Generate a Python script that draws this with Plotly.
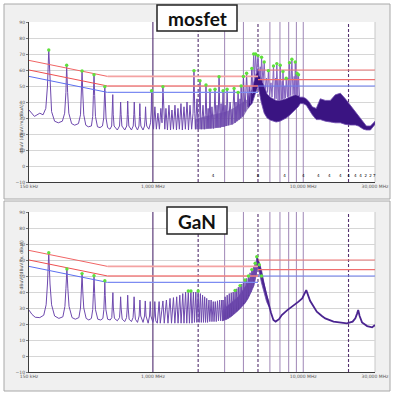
import math
import plotly.graph_objects as go

# ------------------------------------------------------------------ data
x_tick_vals = [0.15, 1, 10, 30]
x_tick_text = ["150 kHz", "1,000 MHz", "10,000 MHz", "30,000 MHz"]
y_tick_vals = [-10, 0, 10, 20, 30, 40, 50, 60, 70, 80, 90]

# limit lines (MHz, dBuV): sloped / flat / upper segments
lim_f = [0.15, 0.5, 0.5, 5, 5, 30]
limA_db = [66, 56, 56, 56, 60, 60]
limB_db = [60, 50, 50, 50, 54, 54]
limC_db = [56, 46, 46, 46, 50, 50]

vline_f = [1, 2, 3, 4, 5, 6, 7, 8, 9, 10, 20]
vline_kind = ["dark", "dash", "light", "light", "dash", "light", "light", "light", "light", "light", "dash"]

# ---- mosfet spectrum (MHz, dBuV)
mos_zig = [
    (0.150, 35), (0.163, 31), (0.177, 33), (0.186, 32), (0.194, 36), (0.199, 50), (0.203, 72.5), (0.207, 50),
    (0.212, 34), (0.222, 28), (0.235, 27), (0.250, 28), (0.259, 33), (0.264, 46), (0.267, 63), (0.271, 46),
    (0.276, 33), (0.288, 26.5), (0.302, 25.5), (0.320, 26.5), (0.330, 32), (0.334, 45), (0.338, 59.4), (0.342, 45),
    (0.347, 32), (0.358, 25.5), (0.372, 24.5), (0.390, 25), (0.398, 31), (0.402, 44), (0.406, 57), (0.410, 44),
    (0.415, 31), (0.428, 24.5), (0.445, 24), (0.462, 25), (0.471, 30), (0.475, 40), (0.479, 49.6), (0.483, 40),
    (0.488, 30), (0.500, 24), (0.518, 23), (0.532, 25), (0.537, 32), (0.541, 44.6), (0.545, 32), (0.552, 25),
    (0.580, 22.5), (0.600, 25), (0.606, 32), (0.610, 40), (0.615, 32), (0.622, 25), (0.650, 22.5), (0.670, 25),
    (0.676, 32), (0.680, 40.6), (0.685, 32), (0.692, 25), (0.720, 22.5), (0.740, 25), (0.747, 32), (0.752, 40),
    (0.757, 32), (0.765, 25), (0.790, 22.5), (0.808, 25), (0.814, 31), (0.819, 39), (0.824, 31), (0.832, 25),
    (0.860, 22.5), (0.880, 25), (0.888, 30), (0.894, 37), (0.900, 30), (0.910, 25), (0.940, 23), (0.965, 27),
    (0.975, 35), (0.980, 47), (0.986, 35), (0.996, 26), (1.010, 23), (1.031, 37), (1.055, 23), (1.080, 33),
    (1.105, 23), (1.130, 36), (1.150, 27), (1.166, 49.6), (1.185, 27), (1.200, 23), (1.221, 36), (1.250, 22.5),
    (1.279, 38), (1.310, 22.5), (1.339, 35), (1.370, 23), (1.402, 38), (1.435, 22.5), (1.468, 36), (1.500, 23),
    (1.537, 39), (1.570, 22.5), (1.610, 37), (1.645, 23), (1.686, 40), (1.725, 22.5), (1.765, 38), (1.810, 23),
    (1.850, 33), (1.876, 59.6), (1.900, 33), (1.920, 23), (1.965, 42), (2.000, 23), (2.030, 32), (2.057, 53.3),
    (2.080, 30), (2.100, 23), (2.154, 38), (2.200, 23), (2.230, 32), (2.255, 50.6), (2.290, 23.5), (2.330, 36),
    (2.360, 23.5), (2.399, 47.5), (2.430, 23.5), (2.470, 37), (2.530, 23.5), (2.590, 48), (2.630, 24), (2.670, 38),
    (2.710, 24), (2.754, 55.8), (2.800, 24), (2.840, 39), (2.880, 24.5), (2.929, 47), (2.970, 24.5), (3.020, 38),
    (3.070, 25), (3.115, 48), (3.180, 25.5), (3.260, 40), (3.360, 26), (3.467, 48.5), (3.520, 27), (3.570, 40),
    (3.620, 28), (3.687, 46), (3.740, 29), (3.800, 42), (3.830, 30), (3.861, 50), (3.930, 31), (4.000, 56),
    (4.100, 34), (4.200, 58), (4.280, 37), (4.370, 50), (4.450, 39), (4.550, 61), (4.600, 45),
]
mos_spk = [
    (4.60, 50), (4.68, 70), (4.75, 55), (4.82, 70), (4.90, 58), (5.00, 69), (5.10, 56), (5.18, 62), (5.23, 54),
    (5.28, 68), (5.40, 52), (5.50, 65), (5.60, 48), (5.70, 55), (5.78, 46), (5.86, 59.6), (5.97, 44), (6.10, 52),
    (6.20, 43), (6.34, 62.5), (6.45, 42), (6.55, 55), (6.60, 42), (6.67, 64), (6.80, 41), (6.90, 54), (6.96, 41),
    (7.03, 63), (7.15, 41.5), (7.25, 53), (7.28, 42), (7.33, 59), (7.45, 42), (7.55, 50), (7.62, 42.5), (7.70, 54.8),
    (7.85, 43), (7.95, 55), (8.02, 43.5), (8.10, 64.6), (8.25, 44), (8.40, 66.7), (8.55, 44.5), (8.70, 56),
    (8.78, 44.5), (8.85, 65), (8.95, 44.5), (9.10, 58), (9.20, 44), (9.30, 57), (9.45, 43),
]
# dense lower body between 1.9 and 4.3 MHz
mos_body_f = [1.9, 2.2, 2.5, 2.8, 3.1, 3.4, 3.7, 4.0, 4.3]
mos_body_lo = [23, 23, 23.5, 24, 25, 26, 28.5, 31, 36]
mos_body_hi = [29, 31, 32, 33, 34, 36, 38, 40, 42]
# dense band 4.3 - 30 MHz
mos_band_f = [4.3, 4.45, 4.57, 4.79, 5.01, 5.25, 5.5, 5.75, 6.03, 6.31, 6.6, 7.0, 7.36, 7.7, 8.07, 8.45, 8.85,
              9.26, 9.55, 10.0, 10.47, 10.96, 11.48, 12.2, 12.98, 14.02, 15.14, 16.34, 17.65, 19.05, 20.57,
              22.2, 23.27, 25.12, 26.3, 27.98, 30.0]
mos_band_lo = [36, 38, 39, 45, 50, 40, 33, 30, 28.7, 28, 27.5, 28, 29, 30, 31.5, 33, 35,
               37, 39, 39, 38, 35, 32, 29, 29, 28, 27.5, 27, 27, 26, 25.6,
               25.6, 25, 23, 22.5, 22.5, 26]
mos_band_hi = [42, 45, 48, 56, 61, 55, 50, 45, 43, 42, 41, 41, 41.5, 42, 43, 44, 44.5,
               44, 43, 43, 42, 40, 37, 36, 42, 41, 41, 44.5, 45.5, 42, 38,
               34, 31, 27, 25, 25, 28]
mos_mk = [
    (0.203, 72.5), (0.267, 63), (0.338, 59.4), (0.406, 57), (0.479, 49.6), (0.980, 47), (1.166, 49.6), (1.876, 59.6),
    (2.057, 53.3), (2.255, 50.6), (2.399, 47.5), (2.590, 48), (2.754, 55.8), (2.929, 47), (3.115, 48), (3.467, 48.5),
    (3.687, 46), (3.861, 50), (4.000, 56), (4.200, 58), (4.550, 61), (4.68, 70), (4.82, 70), (5.00, 69), (5.28, 68),
    (5.50, 65), (5.86, 59.6), (6.34, 62.5), (6.67, 64), (7.03, 63), (7.33, 59), (7.70, 54.8), (8.10, 64.6),
    (8.40, 66.7), (8.85, 65), (9.10, 58), (9.30, 57),
]
mos_lbl_f = [2.51, 5.0, 7.5, 10.0, 12.6, 14.9, 17.6, 20.0, 22.2, 24.0, 26.0, 28.0, 29.7]
mos_lbl_txt = ["4", "8", "4", "4", "4", "4", "4", "4", "4", "4", "2", "2", "7"]
lbl_level = -6.5

# ---- GaN spectrum (MHz, dBuV)
gan_zig = [
    (0.150, 28.7), (0.157, 26), (0.165, 24.2), (0.177, 24), (0.188, 25.5), (0.195, 32), (0.199, 45), (0.203, 64.6),
    (0.207, 45), (0.212, 32), (0.222, 25), (0.237, 23.5), (0.252, 24.5), (0.260, 31), (0.264, 42), (0.268, 54.4),
    (0.272, 42), (0.277, 31), (0.290, 24), (0.305, 23), (0.322, 24), (0.330, 30), (0.334, 40), (0.338, 51.5),
    (0.342, 40), (0.347, 30), (0.360, 23.5), (0.375, 22.5), (0.390, 23.5), (0.398, 29), (0.402, 39), (0.406, 50.2),
    (0.410, 39), (0.415, 29), (0.430, 23), (0.450, 22.5), (0.465, 23.5), (0.472, 29), (0.476, 38), (0.479, 47),
    (0.482, 38), (0.487, 29), (0.500, 23), (0.520, 22.5), (0.533, 24), (0.538, 30), (0.542, 39.6), (0.546, 30),
    (0.555, 23.5), (0.580, 22), (0.600, 24), (0.606, 30), (0.610, 37), (0.615, 30), (0.625, 23), (0.650, 21.5),
    (0.668, 24), (0.675, 30), (0.680, 38), (0.685, 30), (0.695, 23), (0.720, 21.5), (0.738, 24), (0.745, 30),
    (0.750, 37), (0.755, 30), (0.765, 23), (0.790, 21), (0.810, 25), (0.820, 35), (0.830, 25), (0.860, 21),
    (0.880, 25), (0.890, 34.4), (0.900, 25), (0.930, 20.5), (0.950, 25), (0.960, 34), (0.970, 25), (1.000, 21),
    (1.020, 25), (1.030, 34), (1.045, 22), (1.070, 20.5), (1.100, 34), (1.120, 20.5), (1.166, 34.4), (1.190, 20.5),
    (1.230, 35), (1.260, 20.5), (1.300, 36), (1.330, 20.5), (1.370, 36.5), (1.400, 20.5), (1.440, 37), (1.470, 20.5),
    (1.510, 38), (1.540, 20.5), (1.580, 39), (1.610, 20.5), (1.650, 40), (1.680, 20.5), (1.720, 40.6), (1.750, 20.5),
    (1.790, 40.6), (1.820, 20.5), (1.860, 40), (1.890, 21), (1.930, 40), (1.960, 21), (2.000, 40.6), (2.030, 21),
    (2.070, 39), (2.100, 21), (2.140, 38), (2.170, 21), (2.210, 37), (2.240, 21), (2.280, 36), (2.310, 21),
    (2.360, 35), (2.390, 21.5), (2.440, 35), (2.470, 21.5), (2.520, 34), (2.550, 21.5), (2.600, 34), (2.640, 21.5),
    (2.690, 34.5), (2.730, 22), (2.780, 35), (2.820, 22), (2.870, 35), (2.900, 22), (2.930, 35), (2.970, 22.5),
    (3.020, 37), (3.070, 23), (3.120, 38), (3.170, 23.5), (3.220, 39), (3.270, 24.5), (3.320, 39.5), (3.370, 25.5),
    (3.420, 40), (3.470, 26.5), (3.520, 41), (3.560, 27.5), (3.610, 42), (3.650, 28.5), (3.700, 43), (3.750, 29.5),
    (3.800, 44), (3.850, 30.5), (3.900, 45), (3.950, 31.5), (4.000, 46), (4.050, 33), (4.100, 47.5), (4.150, 34.5),
    (4.210, 48.5), (4.260, 36), (4.320, 50), (4.370, 38), (4.430, 52), (4.490, 40), (4.550, 54), (4.610, 43),
    (4.670, 56), (4.730, 46), (4.790, 58), (4.850, 50), (4.910, 62),
]
gan_tail = [
    (4.91, 62), (5.00, 60), (5.10, 57), (5.28, 50), (5.50, 43), (5.70, 37), (5.88, 33), (6.10, 27), (6.33, 22.5),
    (6.55, 21.5), (6.90, 23), (7.20, 25.6), (7.80, 28.5), (8.40, 30.8), (8.85, 32), (9.30, 34), (9.84, 36),
    (10.05, 38), (10.47, 41.2), (11.1, 34.5), (11.7, 31), (12.3, 27.7), (13.3, 25), (14.0, 23.5), (15.9, 21.5),
    (19.5, 20.4), (21.3, 21.5), (22.2, 23.5), (22.8, 26.5), (23.2, 28.7), (23.7, 25), (24.6, 21), (26.6, 18.7),
    (27.5, 18.2), (28.7, 17.9), (30.0, 19.4),
]
gan_band_f = [2.9, 3.1, 3.3, 3.5, 3.7, 3.9, 4.1, 4.3, 4.5, 4.7, 4.85, 4.95, 5.05, 5.28, 5.5, 5.7, 5.9]
gan_band_lo = [22, 23, 24.5, 26.5, 28.5, 30.5, 33, 36, 40, 44, 50, 55, 54, 45.6, 39, 34, 31]
gan_band_hi = [28, 31, 33, 35, 37, 40, 43, 46, 50, 55, 59, 61, 59, 53.7, 45, 38, 34]
gan_mk = [
    (0.203, 64.6), (0.268, 54.4), (0.338, 51.5), (0.406, 50.2), (0.479, 47), (1.72, 40.6), (1.79, 40.6), (2.00, 40.6),
    (3.52, 41), (3.80, 44), (4.10, 47.5), (4.32, 50), (4.55, 54), (4.79, 58), (4.91, 62), (5.10, 57), (5.28, 50),
]

# ------------------------------------------------------------------ figure
W, H = 395, 396
fig = go.Figure()

def px(x):
    return x / W

def py(y):
    return 1 - y / H

panels = [
    dict(xa="x", ya="y", top=22, bot=182, frame=(4, 4, 390, 199), box=(157, 5, 237, 31), title="mosfet"),
    dict(xa="x2", ya="y2", top=212, bot=372, frame=(4, 201, 390, 391), box=(167, 207, 227, 234), title="GaN"),
]

shapes = []
annotations = []
for i, p in enumerate(panels):
    fx0, fy0, fx1, fy1 = p["frame"]
    shapes.append(dict(type="rect", xref="paper", yref="paper", x0=px(fx0), x1=px(fx1), y0=py(fy0), y1=py(fy1),
                       fillcolor="#f0f0f0", line=dict(color="#a8a8a8", width=1), layer="below"))
    shapes.append(dict(type="rect", xref="paper", yref="paper", x0=px(29), x1=px(375), y0=py(p["top"]), y1=py(p["bot"]),
                       fillcolor="white", line=dict(width=0), layer="below"))
    shapes.append(dict(type="line", xref="paper", yref="paper", x0=px(375), x1=px(375), y0=py(p["top"]), y1=py(p["bot"]),
                       line=dict(color="#c8c8c8", width=1), layer="below"))
    bx0, by0, bx1, by1 = p["box"]
    shapes.append(dict(type="rect", xref="paper", yref="paper", x0=px(bx0), x1=px(bx1), y0=py(by0), y1=py(by1),
                       fillcolor="white", line=dict(color="#222222", width=1.5), layer="above"))
    annotations.append(dict(xref="paper", yref="paper", x=px((bx0 + bx1) / 2), y=py((by0 + by1) / 2 + 0.5),
                            text="<b>%s</b>" % p["title"], showarrow=False,
                            font=dict(family="Lato", size=19, color="#111111"), xanchor="center", yanchor="middle"))
    annotations.append(dict(xref="paper", yref="paper", x=px(16), y=py((p["top"] + p["bot"]) / 2),
                            text="dBuV (dBuV/m, dBuA)", textangle=-90, showarrow=False,
                            font=dict(family="DejaVu Sans", size=4.5, color="#555555")))

    sfx = "" if i == 0 else "2"
    fig.layout["xaxis" + sfx] = dict(
        type="log", range=[math.log10(0.15), math.log10(30)], domain=[px(29), px(375)], anchor="y" + sfx,
        tickmode="array", tickvals=x_tick_vals, ticktext=x_tick_text, showgrid=False, zeroline=False,
        showline=True, linecolor="#3c3c3c", linewidth=1, ticks="", automargin=False,
        tickfont=dict(family="DejaVu Sans", size=4.5, color="#555555"), fixedrange=True)
    fig.layout["yaxis" + sfx] = dict(
        range=[-10, 90], domain=[py(p["bot"]), py(p["top"])], anchor="x" + sfx, automargin=False,
        tickmode="array", tickvals=y_tick_vals, showgrid=True, gridcolor="#d6d6d6", gridwidth=1,
        zeroline=False, showline=True, linecolor="#3c3c3c", linewidth=1, ticks="outside", ticklen=2,
        tickcolor="#777777", tickfont=dict(family="DejaVu Sans", size=4.5, color="#555555"), fixedrange=True)

def line_trace(xs, ys, xa, ya, color, width, dash="solid", fill=None, fillcolor=None):
    return go.Scatter(x=xs, y=ys, xaxis=xa, yaxis=ya, mode="lines", showlegend=False, hoverinfo="skip",
                      line=dict(color=color, width=width, dash=dash), fill=fill, fillcolor=fillcolor)

vstyle = {"dark": ("#4e2a6e", 1.1, "solid"), "dash": ("#55306f", 1.1, "3px,2px"), "light": ("#9f86b6", 1, "solid")}

def add_vlines(xa, ya):
    for kind, (col, w, dash) in vstyle.items():
        xs, ys = [], []
        for f, k in zip(vline_f, vline_kind):
            if k == kind:
                xs += [f, f, None]
                ys += [-10, 90, None]
        fig.add_trace(line_trace(xs, ys, xa, ya, col, w, dash))

def add_band(bf, lo, hi, xa, ya, fillc, edge):
    xs = list(bf) + list(bf)[::-1]
    ys = list(hi) + list(lo)[::-1]
    fig.add_trace(line_trace(xs, ys, xa, ya, edge, 0.8, fill="toself", fillcolor=fillc))

def add_limits(xa, ya):
    specs = [(limA_db, ["#f06565", "#f4a3a3", "#f07a7a"], [1, 1.8, 1.2]),
             (limB_db, ["#ee5050", "#f28080", "#f07070"], [1, 1.4, 1.2]),
             (limC_db, ["#5c6ff0", "#7d8cf2", "#6f80f2"], [1, 1.2, 1.1])]
    for arr, cols, ws in specs:
        for s in range(3):
            fig.add_trace(line_trace(lim_f[2 * s:2 * s + 2], arr[2 * s:2 * s + 2], xa, ya, cols[s], ws[s]))

def add_markers(mk, xa, ya):
    fig.add_trace(go.Scatter(x=[m[0] for m in mk], y=[m[1] for m in mk], xaxis=xa, yaxis=ya, mode="markers",
                             showlegend=False, hoverinfo="skip",
                             marker=dict(color="#5fe03c", size=3.4, line=dict(width=0))))

TRACE_COL = "#6e49ae"

# ---- mosfet panel
add_vlines("x", "y")
add_band(mos_body_f, mos_body_lo, mos_body_hi, "x", "y", "rgba(70,30,140,0.55)", "rgba(0,0,0,0)")
add_band(mos_band_f, mos_band_lo, mos_band_hi, "x", "y", "#3a1482", "#6f4aae")
fig.add_trace(line_trace([p[0] for p in mos_zig], [p[1] for p in mos_zig], "x", "y", TRACE_COL, 1))
fig.add_trace(line_trace([p[0] for p in mos_spk], [p[1] for p in mos_spk], "x", "y", "#8462bf", 1))
add_limits("x", "y")
add_markers(mos_mk, "x", "y")
fig.add_trace(go.Scatter(x=mos_lbl_f, y=[lbl_level] * len(mos_lbl_f), xaxis="x", yaxis="y", mode="text",
                         text=mos_lbl_txt, textfont=dict(family="DejaVu Sans", size=4, color="#000000"),
                         showlegend=False, hoverinfo="skip", cliponaxis=False))

# ---- GaN panel
add_vlines("x2", "y2")
add_band(gan_band_f, gan_band_lo, gan_band_hi, "x2", "y2", "rgba(62,24,135,0.85)", "#6f4aae")
fig.add_trace(line_trace([p[0] for p in gan_zig], [p[1] for p in gan_zig], "x2", "y2", TRACE_COL, 1))
fig.add_trace(line_trace([p[0] for p in gan_tail], [p[1] for p in gan_tail], "x2", "y2", "#4a2490", 1.8))
add_limits("x2", "y2")
add_markers(gan_mk, "x2", "y2")

fig.update_layout(width=W, height=H, margin=dict(l=0, r=0, t=0, b=0, pad=0, autoexpand=False),
                  paper_bgcolor="white", plot_bgcolor="rgba(0,0,0,0)", shapes=shapes, annotations=annotations,
                  showlegend=False)

fig.write_html("out.html", config={"displayModeBar": False, "staticPlot": True},
               post_script="document.body.style.margin='0';document.body.style.overflow='hidden';")
